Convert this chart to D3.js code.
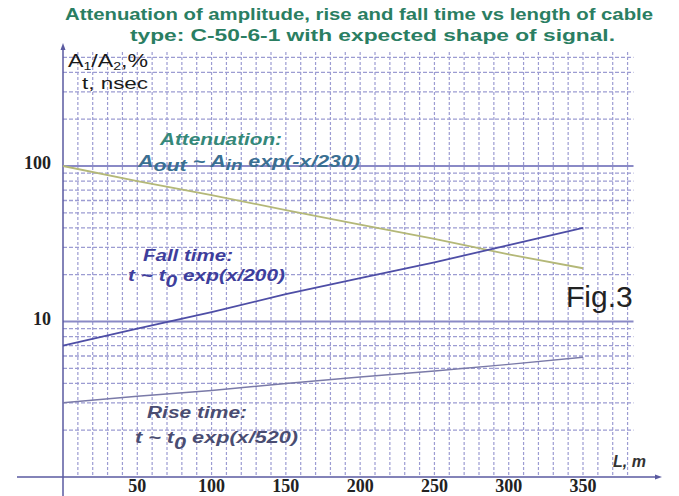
<!DOCTYPE html>
<html><head><meta charset="utf-8">
<script src="https://cdn.jsdelivr.net/npm/d3@7"></script>
<style>html,body{margin:0;padding:0;background:#fff;}</style>
</head><body>
<svg id="c" width="679" height="496"></svg>
<script>
// ---- data ----
const lengths = [0, 50, 100, 150, 200, 250, 300, 350];          // L, m
const attenuation = [100, 80, 65, 52, 42, 34, 27, 22];          // A1/A2, %
const fallTime = [7, 9, 11.5, 15, 19, 24, 31, 40];              // t, nsec
const riseTime = [3, 3.3, 3.6, 4, 4.4, 4.8, 5.3, 5.9];          // t, nsec
const xTicks = [50, 100, 150, 200, 250, 300, 350];
const yTicks = [10, 100];
const titleLines = ["Attenuation of amplitude, rise and fall time vs length of cable",
                    "type: C-50-6-1 with expected shape of signal."];

const svg = d3.select("#c");
const x = d3.scaleLinear().domain([0, 350]).range([63, 583]);
const y = d3.scaleLog().domain([1, 600]).range([477, 45]);

const gridColor = "#9c9cd2";
const axisColor = "#5a5aa0";
const xEnd = x(384), yTop = 52;

// vertical grid every 10 m
const g = svg.append("g");
g.selectAll("line.v").data(d3.range(10, 390, 10)).join("line")
  .attr("x1", d => x(d)).attr("x2", d => x(d))
  .attr("y1", yTop).attr("y2", y(1))
  .attr("stroke", gridColor).attr("stroke-width", 1.2).attr("stroke-dasharray", "3,2");

// horizontal minor grid (log)
const minor = [];
[1, 10, 100].forEach(dec => { for (let k = 2; k <= 9; k++) { if (k * dec <= 500) minor.push(k * dec); } });
g.selectAll("line.h").data(minor).join("line")
  .attr("x1", x(0)).attr("x2", xEnd)
  .attr("y1", d => y(d)).attr("y2", d => y(d))
  .attr("stroke", gridColor).attr("stroke-width", 1.3).attr("stroke-dasharray", "4,2");
// decade lines
g.selectAll("line.d").data(yTicks).join("line")
  .attr("x1", x(0)).attr("x2", xEnd)
  .attr("y1", d => y(d)).attr("y2", d => y(d))
  .attr("stroke", "#8a8ac6").attr("stroke-width", 2);

// axes
svg.append("line").attr("x1", 17).attr("x2", 658).attr("y1", y(1)).attr("y2", y(1))
  .attr("stroke", axisColor).attr("stroke-width", 1.5);
svg.append("path").attr("d", `M662,${y(1)} l-7,-2.5 l0,5 z`).attr("fill", axisColor);
svg.append("line").attr("x1", x(0)).attr("x2", x(0)).attr("y1", 47).attr("y2", 496)
  .attr("stroke", axisColor).attr("stroke-width", 1.5);
svg.append("path").attr("d", `M${x(0)},43 l-2.5,7 l5,0 z`).attr("fill", axisColor);

// tick labels
const tickFont = "'Liberation Serif','Times New Roman',serif";
svg.selectAll("text.xt").data(xTicks).join("text")
  .attr("x", d => x(d)).attr("y", 492).attr("text-anchor", "middle")
  .attr("font-family", tickFont).attr("font-weight", "bold").attr("font-size", 18)
  .attr("fill", "#222").text(d => d);
svg.selectAll("text.yt").data(yTicks).join("text")
  .attr("x", 51).attr("y", d => y(d) + 3).attr("text-anchor", "end")
  .attr("font-family", tickFont).attr("font-weight", "bold").attr("font-size", 18)
  .attr("fill", "#222").text(d => d);

// series lines
const line = vals => d3.line().x((d, i) => x(lengths[i])).y(d => y(d))(vals);
svg.append("path").attr("d", line(attenuation)).attr("fill", "none").attr("stroke", "#b4b878").attr("stroke-width", 1.8);
svg.append("path").attr("d", line(fallTime)).attr("fill", "none").attr("stroke", "#4e4ea6").attr("stroke-width", 1.8);
svg.append("path").attr("d", line(riseTime)).attr("fill", "none").attr("stroke", "#7a7aa8").attr("stroke-width", 1.5);

// title
const sans = "'Liberation Sans', Arial, sans-serif";
svg.append("text").attr("x", 65).attr("y", 20).attr("textLength", 588).attr("lengthAdjust", "spacingAndGlyphs")
  .attr("font-family", sans).attr("font-weight", "bold").attr("font-size", 16).attr("fill", "#2a7e62").text(titleLines[0]);
svg.append("text").attr("x", 130).attr("y", 41).attr("textLength", 485).attr("lengthAdjust", "spacingAndGlyphs")
  .attr("font-family", sans).attr("font-weight", "bold").attr("font-size", 16).attr("fill", "#2a7e62").text(titleLines[1]);

// y axis label
const yl = svg.append("text").attr("x", 68).attr("y", 67).attr("font-family", sans).attr("font-size", 18)
  .attr("fill", "#1a1a1a").attr("textLength", 80).attr("lengthAdjust", "spacingAndGlyphs");
yl.append("tspan").text("A");
yl.append("tspan").attr("font-size", 11).attr("dy", 3).text("1");
yl.append("tspan").attr("dy", -3).text("/A");
yl.append("tspan").attr("font-size", 11).attr("dy", 3).text("2");
yl.append("tspan").attr("dy", -3).text(",%");
svg.append("text").attr("x", 82).attr("y", 89).attr("font-family", sans).attr("font-size", 17)
  .attr("fill", "#1a1a1a").attr("textLength", 66).attr("lengthAdjust", "spacingAndGlyphs").text("t, nsec");

// x axis label
svg.append("text").attr("x", 613).attr("y", 467).attr("font-family", sans).attr("font-style", "italic")
  .attr("font-weight", "bold").attr("font-size", 16).attr("fill", "#333").text("L, m");

// annotations
function formula(xp, yp, parts, color, width) {
  const t = svg.append("text").attr("x", xp).attr("y", yp).attr("font-family", sans)
    .attr("font-style", "italic").attr("font-weight", "bold").attr("font-size", 16).attr("fill", color);
  parts.forEach(p => {
    t.append("tspan").attr("font-size", p.s || 16).attr("dy", p.dy || 0).text(p.t);
  });
  if (width) t.attr("textLength", width).attr("lengthAdjust", "spacingAndGlyphs");
  return t;
}
formula(160, 145, [{t: "Attenuation:"}], "#35887a", 122);
formula(138, 167, [{t: "A"}, {t: "out", s: 16, dy: 4}, {t: " ~ A", dy: -4}, {t: "in", s: 14, dy: 3}, {t: " exp(-x/230)", dy: -3}], "#3a6f92", 222);
formula(143, 261, [{t: "Fall time:"}], "#3e3e9c", 90);
formula(128, 281, [{t: "t ~ t"}, {t: "0", s: 16, dy: 6}, {t: " exp(x/200)", dy: -6}], "#3e3e9c", 157);
formula(147, 418, [{t: "Rise time:"}], "#4a4d72", 100);
formula(135, 443, [{t: "t ~ t"}, {t: "0", s: 16, dy: 6}, {t: "  exp(x/520)", dy: -6}], "#4a4d72", 163);

svg.append("text").attr("x", 566).attr("y", 307).attr("font-family", sans).attr("font-size", 30)
  .attr("fill", "#222").text("Fig.3");
</script>
</body></html>
